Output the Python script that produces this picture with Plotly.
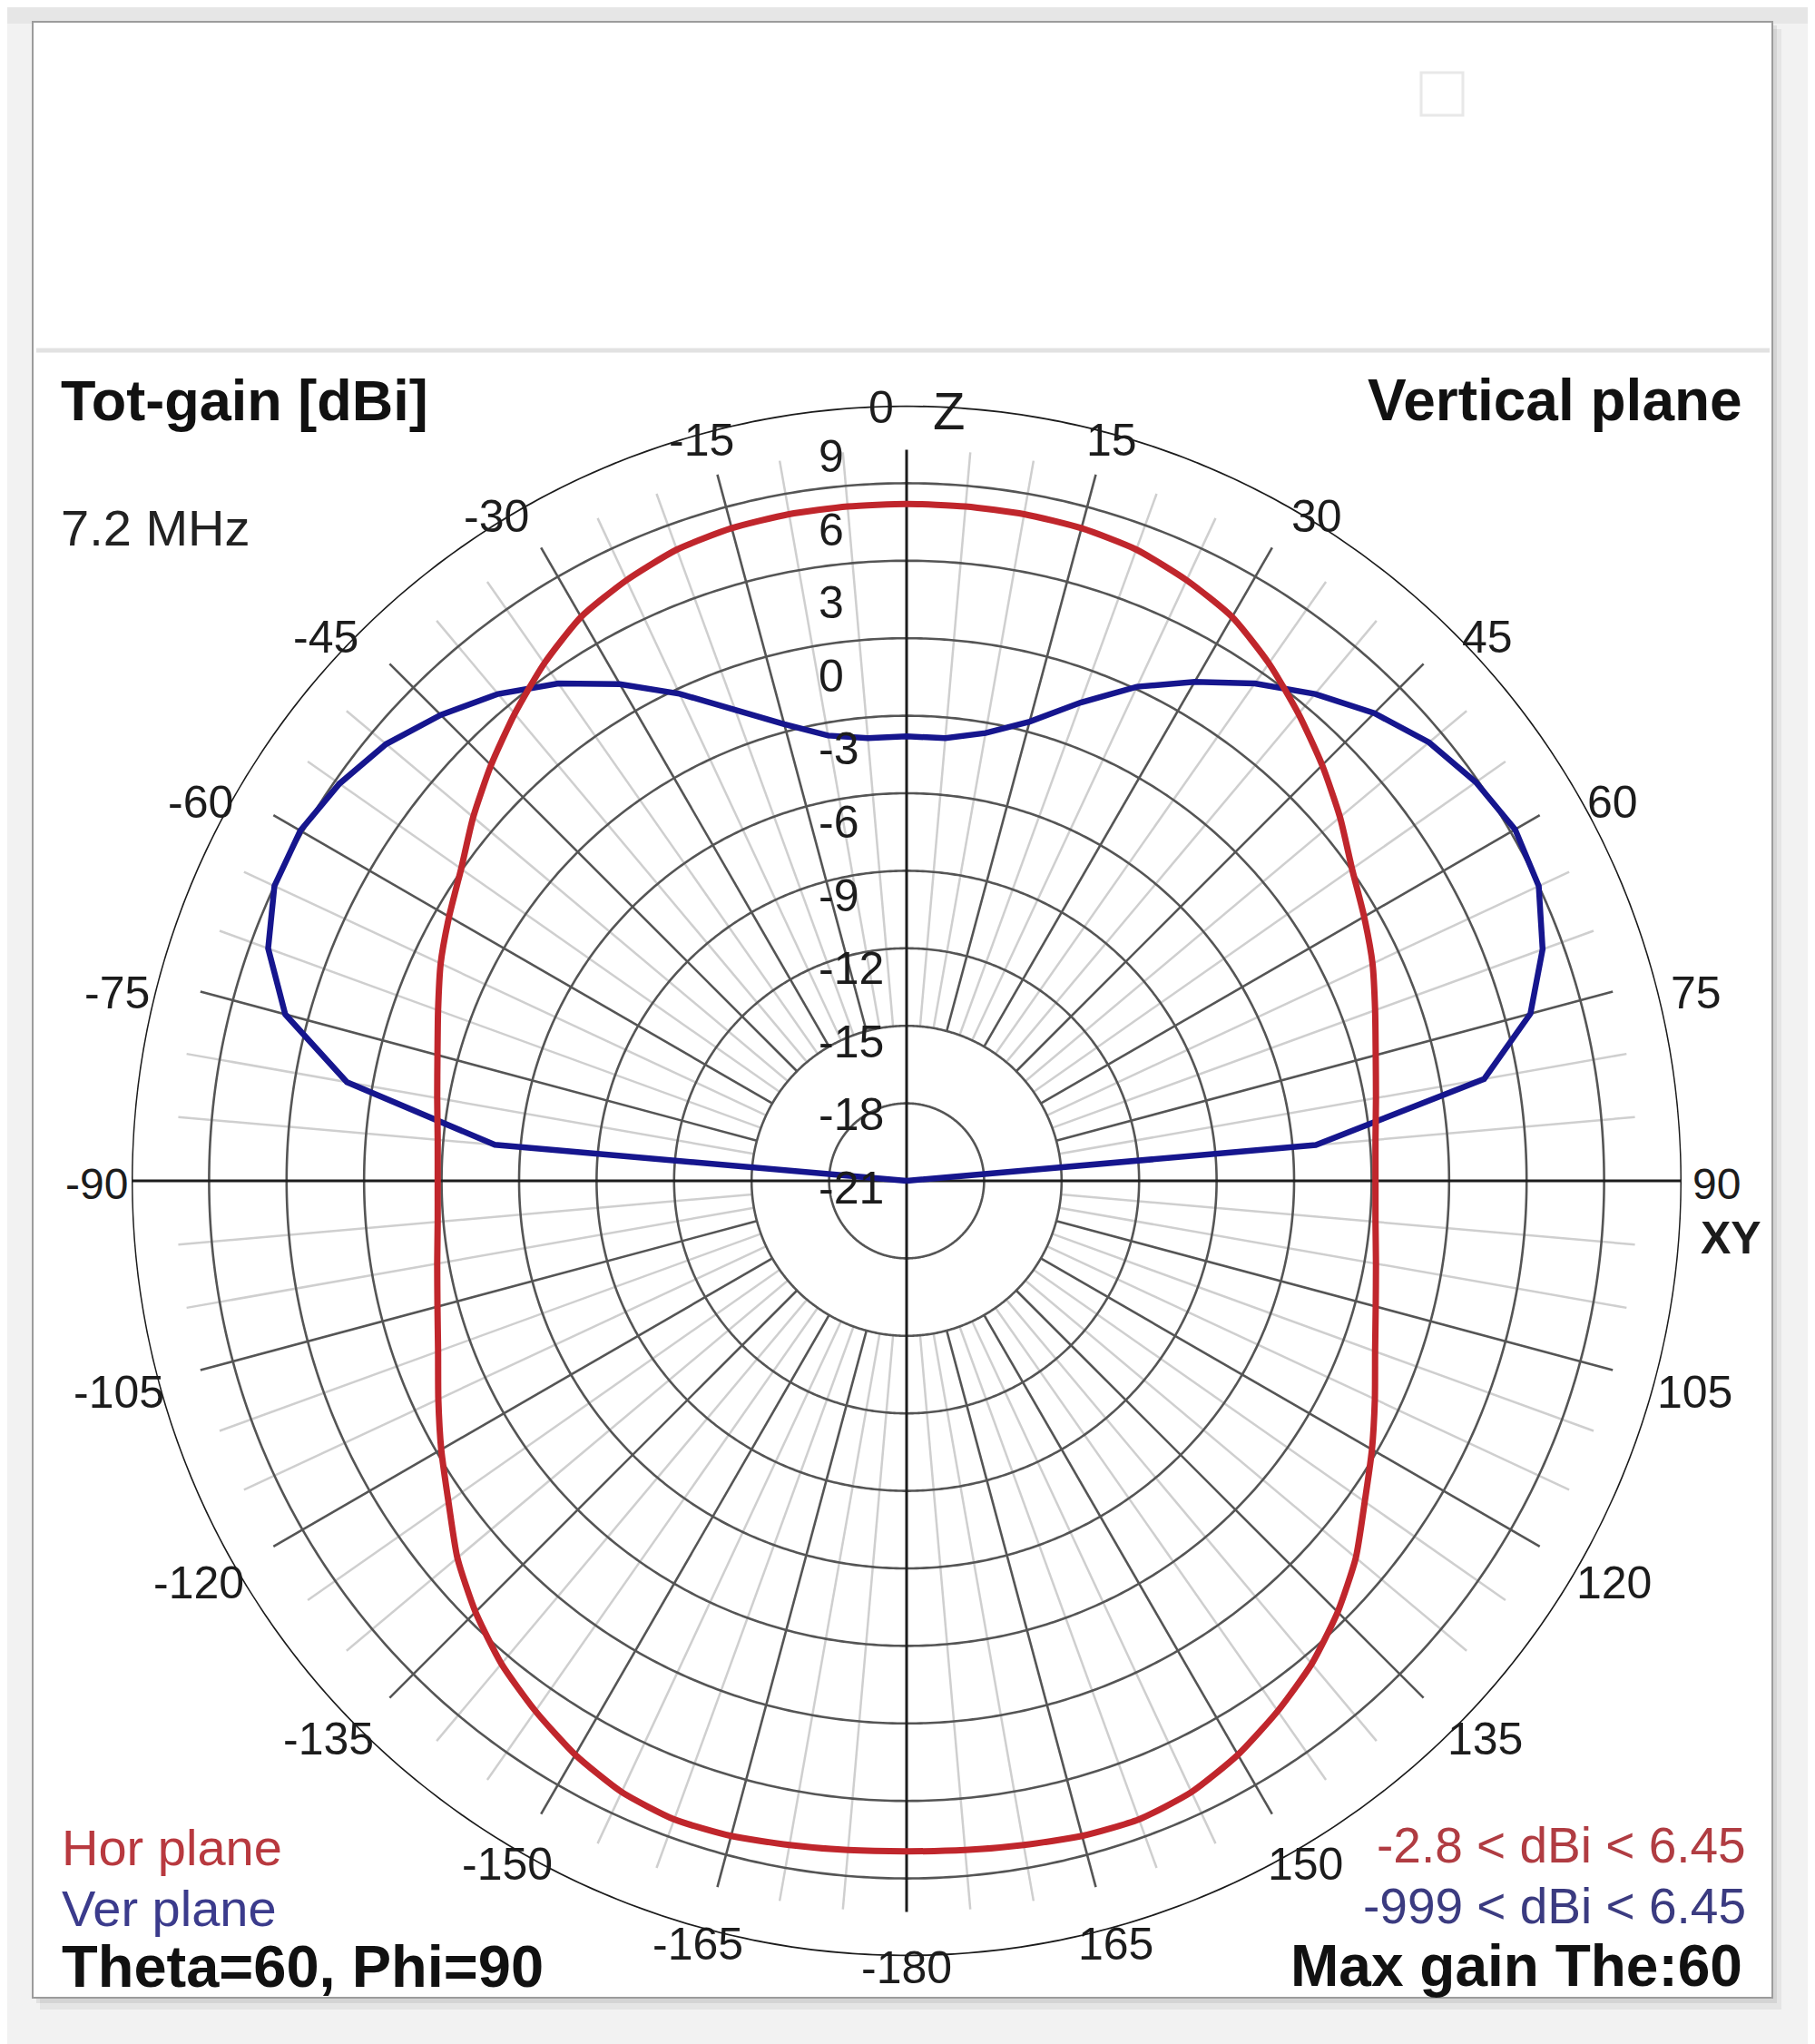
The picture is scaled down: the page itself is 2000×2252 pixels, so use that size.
import numpy as np
import plotly.graph_objects as go

# ---------------- data (gain in dBi, angle in degrees from zenith, clockwise) -------------
red_theta = list(range(0, 360, 5))
red_gain = [5.2, 5.2, 5.2, 5.15, 5.0, 4.65, 4.2, 3.45, 2.6, 1.75, 0.9, 0.05,
            -0.55, -1.1, -1.7, -2.2, -2.55, -2.78, -2.85, -2.78, -2.55, -2.2, -1.7, -1.0,
            -0.2, 0.65, 1.7, 2.6, 3.4, 4.05, 4.65, 5.1, 5.3, 5.25, 5.1, 5.0,
            4.95, 5.0, 5.1, 5.25, 5.3, 5.1, 4.65, 4.05, 3.4, 2.6, 1.7, 0.65,
            -0.2, -1.0, -1.7, -2.2, -2.55, -2.78, -2.85, -2.78, -2.55, -2.2, -1.7, -1.1,
            -0.55, 0.05, 0.9, 1.75, 2.6, 3.45, 4.2, 4.65, 5.0, 5.15, 5.2, 5.2]

blue_theta = list(range(-90, 95, 5))
blue_gain = [-999, -5.0, 1.0, 3.9, 5.3, 6.0, 6.1, 5.8, 5.3, 4.5, 3.6, 2.5, 1.2,
             -0.2, -1.6, -2.7, -3.5, -3.8, -3.8, -3.8, -3.4, -2.6, -1.3, 0.1, 1.3,
             2.5, 3.6, 4.6, 5.4, 5.9, 6.2, 6.0, 5.2, 4.0, 1.7, -5.1, -999]

ring_levels = [-18, -15, -12, -9, -6, -3, 0, 3, 6]
ring_label_values = [9, 6, 3, 0, -3, -6, -9, -12, -15, -18, -21]
angle_ticks = [15, 30, 45, 60, 75, 90, 105, 120, 135, 150, 165,
               -15, -30, -45, -60, -75, -90, -105, -120, -135, -150, -165, -180]

# label placement (layout only): radius in px and small angular nudge, by |angle|
LABEL_R = {15: 847, 30: 860, 45: 876, 60: 883, 75: 894, 90: 893, 105: 899,
           120: 897, 135: 886, 150: 872, 165: 872, 180: 867}
LABEL_NUDGE = {15: 0.5, 30: 1.7, 45: 1.9, 60: 1.8, 75: 1.6, 90: 0.2, 105: 0.0,
               120: -0.4, 135: -1.0, 150: -0.3, 165: -0.3, 180: 0.0}

# ---------------- geometry ----------------
W, H = 2000, 2252
OFF = 8                     # default page margin of the html body
CX, CY, R = 999, 1301, 854
R_MIN, R_MAX = -21, 9
R_GRID_IN, R_GRID_OUT = -15, 7.3


def px(x):
    return (x - OFF) / W


def py(y):
    return 1 - (y - OFF) / H


RED = "#c0262c"
BLUE = "#16168e"
DARK = "#555555"
LIGHT = "#cfcfcf"
BLACK = "#1c1c1c"
FONT = "Liberation Sans, Arial, sans-serif"

fig = go.Figure()


def pline(r, th, color, width):
    fig.add_trace(go.Scatterpolar(r=r, theta=th, mode="lines",
                                  line=dict(color=color, width=width),
                                  hoverinfo="skip", showlegend=False,
                                  connectgaps=False))


# light radials every 5 deg
lr, lt = [], []
for a in range(0, 360, 5):
    if a % 15:
        lr += [R_GRID_IN, R_GRID_OUT, None]
        lt += [a, a, None]
pline(lr, lt, LIGHT, 2.5)

# dark rings
circ = np.linspace(0, 360, 721)
for v in ring_levels:
    pline([v] * len(circ), circ, DARK, 2.6)

# dark radials every 15 deg
dr, dt = [], []
for a in range(0, 360, 15):
    if a % 90:
        dr += [R_GRID_IN, R_GRID_OUT, None]
        dt += [a, a, None]
pline(dr, dt, DARK, 2.6)

# outer circle
pline([R_MAX] * len(circ), circ, BLACK, 3)
# axes
pline([R_GRID_OUT, R_MIN, R_GRID_OUT], [0, 0, 180], BLACK, 3)
pline([R_MAX, R_MIN, R_MAX], [90, 90, 270], BLACK, 3)

# data curves
blue_plot = np.maximum(np.array(blue_gain, dtype=float), R_MIN)
fig.add_trace(go.Scatterpolar(r=blue_plot, theta=blue_theta, mode="lines",
                              line=dict(color=BLUE, width=6.5),
                              name="Ver plane", showlegend=False))
fig.add_trace(go.Scatterpolar(r=red_gain + [red_gain[0]], theta=red_theta + [360], mode="lines",
                              line=dict(color=RED, width=7, shape="spline", smoothing=0.6),
                              name="Hor plane", showlegend=False))

# ---------------- annotations ----------------
ann = []
lab_font = dict(family=FONT, size=50, color=BLACK)

for a in angle_ticks:
    k = abs(a)
    t = np.radians(np.sign(a) * (k + LABEL_NUDGE[k]))
    rl = LABEL_R[k]
    x = CX + rl * np.sin(t)
    y = CY - rl * np.cos(t)
    ann.append(dict(x=px(x), y=py(y), text=str(a), showarrow=False,
                    xanchor="center", yanchor="middle",
                    font=dict(family=FONT, size=48 if k == 90 else 50, color=BLACK)))
# 0 and Z at the top
ann.append(dict(x=px(CX - 28), y=py(CY - R + 2), text="0", showarrow=False,
                xanchor="center", yanchor="middle", font=lab_font))
ann.append(dict(x=px(CX + 46), y=py(CY - R + 6), text="Z", showarrow=False,
                xanchor="center", yanchor="middle", font=dict(family=FONT, size=58, color=BLACK)))
ann.append(dict(x=px(1907), y=py(1364), text="XY", showarrow=False,
                xanchor="center", yanchor="middle",
                font=dict(family=FONT, size=50, color=BLACK, weight="bold")))

# ring labels along the vertical axis
for v in ring_label_values:
    y = 1309 - (v - R_MIN) / 3 * 80.6
    ann.append(dict(x=px(900), y=py(y), text=str(v), showarrow=False,
                    xanchor="left", yanchor="middle", font=lab_font))

bold = dict(family=FONT, size=63, color="#111111", weight="bold")
ann += [
    dict(x=px(65), y=py(441), text="Tot-gain [dBi]", xanchor="left", font=bold),
    dict(x=px(1922), y=py(441), text="Vertical plane", xanchor="right",
         font=dict(family=FONT, size=64, color="#111111", weight="bold")),
    dict(x=px(65), y=py(581), text="7.2 MHz", xanchor="left",
         font=dict(family=FONT, size=56, color="#222222")),
    dict(x=px(66), y=py(2035), text="Hor plane", xanchor="left",
         font=dict(family=FONT, size=56, color="#b8393f")),
    dict(x=px(66), y=py(2102), text="Ver plane", xanchor="left",
         font=dict(family=FONT, size=56, color="#3b3b8c")),
    dict(x=px(66), y=py(2166), text="Theta=60, Phi=90", xanchor="left",
         font=dict(family=FONT, size=65, color="#111111", weight="bold")),
    dict(x=px(1926), y=py(2033), text="-2.8 < dBi < 6.45", xanchor="right",
         font=dict(family=FONT, size=55, color="#b03c42")),
    dict(x=px(1926), y=py(2100), text="-999 < dBi < 6.45", xanchor="right",
         font=dict(family=FONT, size=55, color="#3b3b80")),
    dict(x=px(1922), y=py(2166), text="Max gain The:60", xanchor="right",
         font=dict(family=FONT, size=64, color="#111111", weight="bold")),
]
for a_ in ann:
    a_.setdefault("showarrow", False)
    a_.setdefault("yanchor", "middle")
    a_["xref"] = "paper"
    a_["yref"] = "paper"

# ---------------- frame shapes ----------------
shapes = [
    dict(type="rect", x0=px(0), x1=px(W + OFF), y0=py(0), y1=py(26), fillcolor="#e6e6e6",
         line=dict(width=0), layer="below"),
    dict(type="rect", x0=px(44), x1=px(1963), y0=py(32), y1=py(2214),
         fillcolor="rgba(0,0,0,0.05)", line=dict(width=0), layer="below"),
    dict(type="rect", x0=px(40), x1=px(1958), y0=py(28), y1=py(2207),
         fillcolor="rgba(0,0,0,0.07)", line=dict(width=0), layer="below"),
    dict(type="rect", x0=px(36), x1=px(1953), y0=py(24), y1=py(2201),
         fillcolor="white", line=dict(color="#9c9c9c", width=2), layer="below"),
    dict(type="line", x0=px(40), x1=px(1950), y0=py(386), y1=py(386),
         line=dict(color="#e2e2e2", width=5), layer="below"),
    dict(type="rect", x0=px(1566), x1=px(1612), y0=py(80), y1=py(127),
         fillcolor="rgba(0,0,0,0)", line=dict(color="#e8e8e8", width=3), layer="below"),
]
for s in shapes:
    s.update(xref="paper", yref="paper")

fig.update_layout(
    width=W, height=H,
    margin=dict(l=0, r=0, t=0, b=0),
    paper_bgcolor="#f2f2f2",
    showlegend=False,
    polar=dict(
        domain=dict(x=[px(CX - R), px(CX + R)], y=[py(CY + R), py(CY - R)]),
        bgcolor="white",
        radialaxis=dict(range=[R_MIN, R_MAX], showgrid=False, showline=False,
                        showticklabels=False, ticks=""),
        angularaxis=dict(rotation=90, direction="clockwise", showgrid=False,
                         showline=False, showticklabels=False, ticks=""),
    ),
    annotations=ann,
    shapes=shapes,
)

fig.write_html("out.html")
